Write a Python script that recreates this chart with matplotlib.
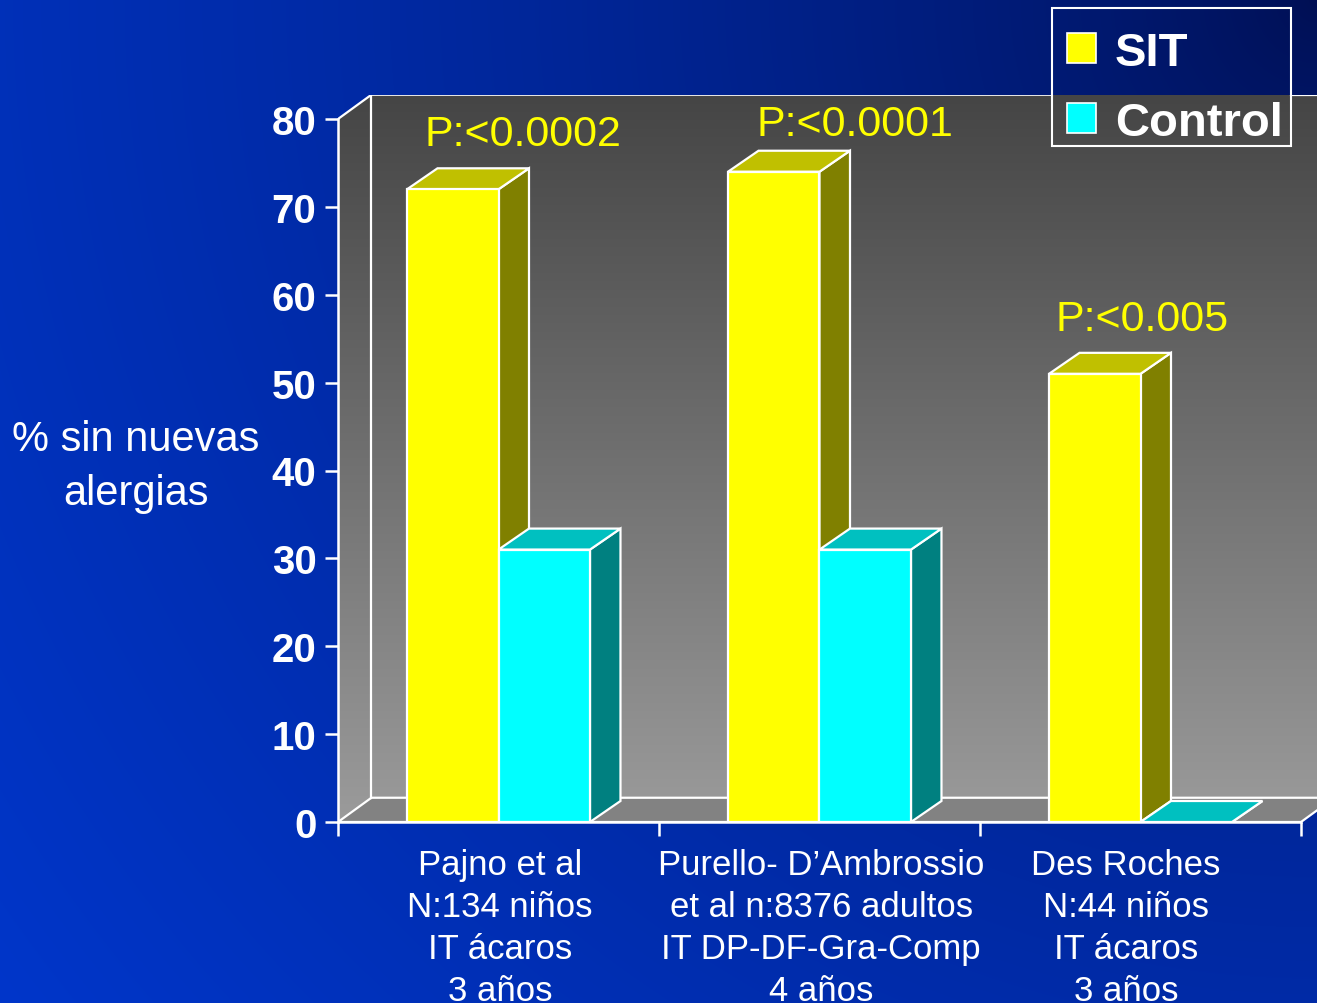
import numpy as np
import matplotlib.pyplot as plt
from matplotlib.patches import Polygon, Patch, Rectangle
from matplotlib.colors import LinearSegmentedColormap

plt.rcParams['font.family'] = ['Liberation Sans', 'DejaVu Sans']

# data
categories = ["Pajno et al\nN:134 niños\nIT ácaros\n3 años",
              "Purello- D\u2019Ambrossio\net al n:8376 adultos\nIT DP-DF-Gra-Comp\n4 años",
              "Des Roches\nN:44 niños\nIT ácaros\n3 años"]
sit = [72, 74, 51]
control = [31, 31, 0]
p_labels = ["P:<0.0002", "P:<0.0001", "P:<0.005"]
yticks = list(range(0, 90, 10))
series_names = ["SIT", "Control"]

# 3d look: depth offsets in data units
dxw, dyw = 0.104, 2.76     # back wall
dxb, dyb = 0.095, 2.39     # bar depth
bw = 0.285                 # bar width

W, H = 1317, 1004
fig = plt.figure(figsize=(W / 100, H / 100), dpi=100)

# blue background gradient, darker towards top right
bg = fig.add_axes([0, 0, 1, 1], zorder=-5)
yy, xx = np.mgrid[0:H, 0:W]
d = np.sqrt((W - xx) ** 2 + yy ** 2) / np.sqrt(W ** 2 + H ** 2)
t = d ** 0.7
dark = np.array([0, 15, 82]) / 255
bright = np.array([0, 54, 202]) / 255
img = dark[None, None, :] * (1 - t[..., None]) + bright[None, None, :] * t[..., None]
bg.imshow(img, aspect='auto', extent=[0, 1, 0, 1])
bg.axis('off')

# main axes: front axis at x=338px, y0 at 823px, y80 at 120px
ux = 321.0
uy = 703.0 / 80
ax = fig.add_axes([338 / W, (H - 823) / H, (3 + dxw) * ux / W, (80 + dyw) * uy / H])
ax.set_xlim(0, 3 + dxw)
ax.set_ylim(0, 80 + dyw)
ax.patch.set_visible(False)

# gray wall gradient (back + left side)
gray = LinearSegmentedColormap.from_list('g', ['#9b9b9b', '#454545'])
grad = np.linspace(0, 1, 256)[:, None]
im = ax.imshow(grad, cmap=gray, origin='lower', aspect='auto',
               extent=[0, 3 + dxw, 0, 80 + dyw], zorder=0)
wall = Polygon([(0, 0), (0, 80), (dxw, 80 + dyw), (3 + dxw, 80 + dyw),
                (3 + dxw, dyw), (dxw, dyw)], closed=True, transform=ax.transData)
im.set_clip_path(wall)

# floor
ax.add_patch(Polygon([(0, 0), (3, 0), (3 + dxw, dyw), (dxw, dyw)], closed=True,
                     facecolor='#828282', edgecolor='white', lw=1.6, zorder=1))
lk = dict(color='white', lw=1.6, zorder=1)
# top edge of the wall (hidden behind the legend box)
ax.plot([0, dxw, 2.224], [80, 80 + dyw, 80 + dyw], **lk)
ax.plot([2.969, 3 + dxw], [80 + dyw, 80 + dyw], **lk)
ax.plot([dxw, dxw], [dyw, 80 + dyw], **lk)


def bar3d(x0, h, front, top, side):
    x1 = x0 + bw
    kw = dict(closed=True, edgecolor='white', lw=1.6, joinstyle='miter', zorder=3)
    ax.add_patch(Polygon([(x1, 0), (x1 + dxb, dyb), (x1 + dxb, h + dyb), (x1, h)], facecolor=side, **kw))
    ax.add_patch(Polygon([(x0, h), (x1, h), (x1 + dxb, h + dyb), (x0 + dxb, h + dyb)], facecolor=top, **kw))
    if h > 0:
        ax.add_patch(Polygon([(x0, 0), (x1, 0), (x1, h), (x0, h)], facecolor=front, **kw))


for i in range(len(categories)):
    bar3d(i + 0.215, sit[i], '#ffff00', '#c0c000', '#808000')
    bar3d(i + 0.5, control[i], '#00ffff', '#00c0c0', '#008080')

# p-value labels
p_pos = [(0.576, 78.3), (1.61, 79.4), (2.505, 57.2)]
for (px, py), lab in zip(p_pos, p_labels):
    ax.text(px, py, lab, color='#ffff00', fontsize=31, ha='center', va='center', zorder=4)

# axes spines / ticks
for s in ['top', 'right']:
    ax.spines[s].set_visible(False)
for s in ['left', 'bottom']:
    ax.spines[s].set_color('white')
    ax.spines[s].set_linewidth(1.8)
ax.spines['left'].set_bounds(0, 80)
ax.spines['bottom'].set_bounds(0, 3)
ax.spines['left'].set_zorder(5)
ax.spines['bottom'].set_zorder(5)

ax.set_yticks(yticks)
ax.set_yticklabels([str(v) for v in yticks], fontsize=29, fontweight='bold', color='white')
ax.tick_params(axis='y', colors='white', length=9.5, width=1.8, pad=6)

ax.set_xticks([0, 1, 2, 3])
ax.set_xticklabels([])
ax.set_xticks([0.505, 1.505, 2.455], minor=True)
ax.set_xticklabels(categories, minor=True, fontsize=25, color='white', linespacing=1.34)
ax.tick_params(axis='x', which='major', colors='white', length=10, width=1.8)
ax.tick_params(axis='x', which='minor', length=0, pad=19)

fig.text(136 / W, 1 - 467 / H, "% sin nuevas\nalergias", color='white', fontsize=30,
         ha='center', va='center', linespacing=1.43)

handles = [Patch(facecolor='#ffff00', edgecolor='white', lw=1.2),
           Patch(facecolor='#00ffff', edgecolor='white', lw=1.2)]
leg = fig.legend(handles, series_names, loc='upper left',
                 bbox_to_anchor=(1055 / W, 1 - 20 / H), frameon=False,
                 prop={'size': 34, 'weight': 'bold'}, labelcolor='white',
                 handlelength=0.62, handleheight=0.62, handletextpad=0.4,
                 labelspacing=0.55, borderpad=0.25, borderaxespad=0)
fig.patches.append(Rectangle((1052 / W, 1 - 147 / H), 239 / W, 138 / H, transform=fig.transFigure,
                             fill=False, edgecolor='white', lw=1.5))

fig.savefig('out.png', dpi=100)
